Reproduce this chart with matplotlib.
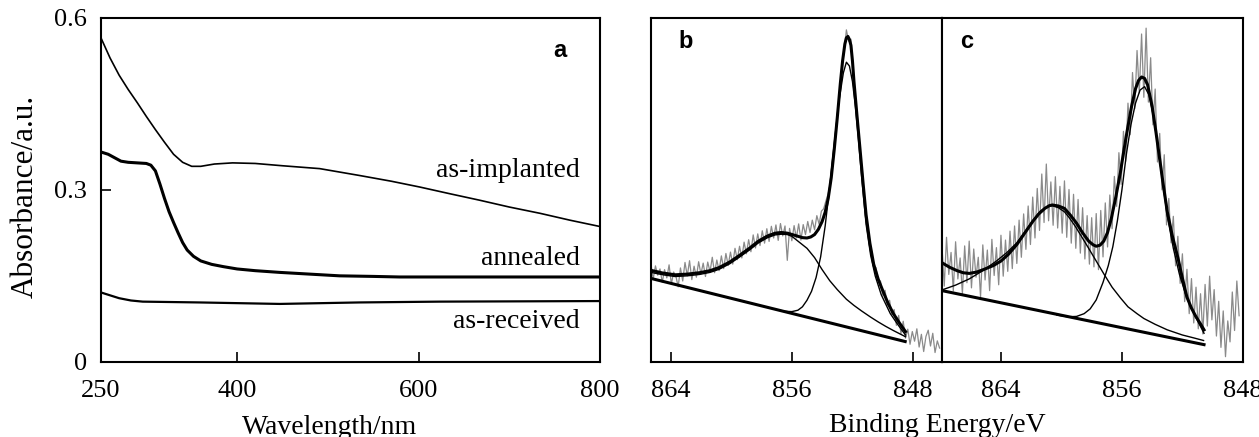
import numpy as np
import matplotlib
matplotlib.use("Agg")
import matplotlib.pyplot as plt

plt.rcParams['font.family'] = ['Liberation Serif', 'DejaVu Serif']

# ---- panel a: UV-vis absorbance ----
wl_impl = [250, 260, 270, 280, 290, 300, 310, 320, 330, 340, 350, 360, 375, 395, 420, 450,
           491, 535, 570, 601, 635, 667, 700, 734, 767, 800]
abs_impl = [0.565, 0.530, 0.500, 0.475, 0.452, 0.428, 0.405, 0.383, 0.362, 0.348, 0.341,
            0.341, 0.345, 0.347, 0.346, 0.342, 0.337, 0.325, 0.315, 0.305, 0.293, 0.282,
            0.270, 0.259, 0.247, 0.236]
wl_ann = [250, 258, 265, 272, 280, 290, 300, 305, 310, 315, 320, 325, 330, 335, 340, 345,
          352, 360, 372, 385, 400, 420, 447, 480, 513, 550, 579, 800]
abs_ann = [0.366, 0.362, 0.356, 0.350, 0.348, 0.347, 0.346, 0.343, 0.333, 0.310, 0.285,
           0.262, 0.243, 0.225, 0.208, 0.195, 0.184, 0.176, 0.170, 0.166, 0.162, 0.159,
           0.156, 0.153, 0.150, 0.149, 0.148, 0.148]
wl_rec = [250, 260, 270, 283, 296, 358, 447, 535, 623, 800]
abs_rec = [0.121, 0.116, 0.111, 0.107, 0.105, 0.1036, 0.101, 0.1036, 0.105, 0.106]

# ---- panel b: XPS fit curves ----
b_base_e = [865.34, 848.52]
b_base_i = [24.3, 5.9]
b_env_e = [865.3, 864.5, 863.7, 862.9, 862.1, 861.4, 860.8, 860.1, 859.5, 858.8, 858.2,
           857.6, 857.1, 856.7, 856.3, 855.9, 855.6, 855.3, 855.0, 854.75, 854.5, 854.25,
           854.0, 853.8, 853.6, 853.4, 853.2, 853.0, 852.8, 852.65, 852.5, 852.4, 852.3,
           852.2, 852.1, 852.0, 851.9, 851.7, 851.5, 851.3, 851.1, 850.85, 850.6, 850.3,
           850.0, 849.65, 849.3, 848.9, 848.5]
b_env_i = [26.6, 25.8, 25.3, 25.5, 25.9, 26.5, 27.4, 29.0, 30.8, 33.0, 35.1,
           36.6, 37.4, 37.6, 37.4, 36.9, 36.5, 36.1, 36.0, 36.3, 37.0, 38.5,
           40.8, 43.5, 47.5, 53.5, 61.8, 71.0, 80.9, 87.5, 92.4, 94.2, 94.6,
           93.7, 92.0, 87.5, 81.5, 71.5, 61.8, 52.0, 42.7, 34.5, 28.4, 24.0,
           20.7, 17.0, 14.0, 11.3, 8.8]
b_p1_e = [857.0, 856.5, 856.0, 855.6, 855.3, 855.0, 854.7, 854.4, 854.1, 853.8, 853.5,
          853.2, 852.9, 852.6, 852.4, 852.2, 852.0, 851.8, 851.6, 851.4, 851.1, 850.8,
          850.5, 850.1, 849.5, 849.0, 848.5]
b_p1_i = [15.2, 14.7, 14.6, 15.0, 16.0, 17.9, 20.5, 24.5, 30.5, 39.5, 51.0,
          63.5, 75.5, 84.0, 87.1, 86.0, 81.5, 74.0, 64.5, 54.0, 40.0, 31.0,
          25.0, 19.5, 14.0, 10.8, 7.8]
b_p2_e = [865.3, 864.5, 863.7, 862.9, 862.1, 861.4, 860.8, 860.1, 859.5, 858.8, 858.2,
          857.6, 857.1, 856.7, 856.3, 856.0, 855.6, 855.0, 854.5, 854.0, 853.5, 853.0,
          852.4, 851.9, 851.4, 850.8, 850.3, 849.8, 849.3, 848.9, 848.5]
b_p2_i = [26.0, 25.3, 24.8, 25.0, 25.4, 26.0, 26.9, 28.5, 30.3, 32.5, 34.6,
          36.1, 36.9, 37.1, 37.0, 36.5, 35.1, 33.0, 30.3, 26.8, 23.6, 21.0,
          18.2, 16.4, 14.8, 13.0, 11.6, 10.3, 9.1, 8.2, 7.3]
b_raw_i = [28.5, 24.0, 27.9, 25.2, 27.0, 23.1, 26.8, 24.4, 28.2, 22.6,
           26.1, 24.9, 21.8, 27.3, 23.5, 28.9, 25.0, 29.4, 23.9, 27.8,
           24.6, 29.1, 25.5, 28.7, 24.8, 29.0, 26.2, 30.4, 25.9, 29.6,
           26.5, 30.8, 27.1, 31.5, 28.0, 31.9, 28.4, 33.0, 29.7, 33.6,
           30.2, 34.8, 31.4, 35.5, 32.0, 36.9, 33.1, 37.2, 33.8, 38.1,
           34.5, 38.7, 35.0, 39.4, 36.0, 39.8, 35.3, 40.2, 36.6, 39.5,
           29.5, 38.8, 35.2, 39.6, 36.0, 40.1, 35.4, 39.9, 37.0, 40.8,
           37.6, 41.2, 38.4, 42.5, 40.0, 43.8, 44.5, 46.8, 48.9, 52.0,
           58.9, 63.5, 72.0, 77.9, 85.6, 90.1, 96.5, 93.2, 93.8, 84.5,
           75.6, 70.1, 61.2, 55.5, 47.0, 41.6, 35.3, 32.6, 27.5, 27.4,
           23.6, 23.5, 19.4, 20.8, 16.5, 17.9, 13.8, 15.2, 10.6, 13.5,
           8.2, 11.8, 6.9, 9.5, 5.1, 8.8, 6.0, 9.6, 4.3, 8.0,
           3.0, 7.4, 9.2, 4.6, 8.3, 2.7, 6.1, 4.0]
b_raw_e = np.linspace(865.3, 865.3 - 0.15 * (len(b_raw_i) - 1), len(b_raw_i))

# ---- panel c ----
c_base_e = [867.9, 850.57]
c_base_i = [20.7, 5.0]
c_env_e = [867.9, 867.4, 866.9, 866.5, 866.1, 865.6, 865.05, 864.5, 864.0, 863.5, 862.95,
           862.4, 861.9, 861.5, 861.1, 860.8, 860.6, 860.2, 859.8, 859.4, 859.0, 858.6,
           858.2, 857.9, 857.7, 857.45, 857.2, 856.95, 856.7, 856.4, 856.1, 855.85, 855.6,
           855.35, 855.1, 854.9, 854.7, 854.5, 854.3, 854.0, 853.75, 853.5, 853.25, 853.0,
           852.65, 852.3, 852.0, 851.7, 851.4, 851.1, 850.8, 850.57]
c_env_i = [28.8, 27.5, 26.5, 25.9, 25.7, 26.1, 27.0, 28.0, 29.3, 31.3, 34.1,
           37.6, 40.8, 43.0, 44.6, 45.4, 45.6, 45.3, 44.6, 42.6, 40.3, 37.5,
           35.1, 34.0, 33.6, 33.9, 35.1, 37.6, 41.7, 48.0, 55.1, 62.0, 68.5,
           74.5, 79.4, 81.8, 82.8, 82.4, 80.5, 74.2, 66.8, 58.9, 51.0, 43.6,
           36.3, 30.3, 24.3, 18.8, 15.6, 13.1, 11.0, 9.3]
c_p1_e = [860.3, 859.6, 859.0, 858.5, 858.1, 857.7, 857.25, 856.9, 856.6, 856.3, 856.0,
          855.7, 855.4, 855.1, 854.8, 854.5, 854.2, 853.9, 853.6, 853.3, 853.0, 852.6,
          852.2, 851.8, 851.4, 851.0, 850.57]
c_p1_i = [13.6, 13.1, 13.2, 14.0, 15.4, 18.0, 23.1, 28.0, 33.5, 41.0, 50.0,
          60.5, 69.0, 75.2, 79.0, 80.0, 77.5, 71.0, 62.0, 52.0, 42.5, 33.0,
          25.5, 19.8, 15.5, 12.0, 8.3]
c_p2_e = [867.9, 867.0, 866.1, 865.2, 864.3, 863.6, 862.95, 862.4, 861.9, 861.4, 860.9,
          860.6, 860.2, 859.8, 859.5, 859.1, 858.75, 858.2, 857.7, 857.2, 856.65, 856.1,
          855.6, 855.0, 854.55, 853.8, 853.0, 852.0, 851.2, 850.6]
c_p2_i = [20.9, 22.3, 24.1, 26.5, 29.3, 31.8, 34.6, 37.9, 41.0, 43.8, 45.2,
          45.4, 44.8, 43.6, 42.0, 39.5, 37.0, 33.0, 29.3, 25.6, 21.7, 18.6,
          16.0, 14.0, 12.6, 10.9, 9.3, 7.8, 6.9, 6.2]
c_raw_i = [33.5, 22.0, 36.2, 25.4, 31.8, 20.6, 34.9, 24.1, 30.2, 19.8,
           33.7, 23.0, 35.1, 21.5, 32.8, 24.6, 30.4, 18.9, 34.0, 23.8,
           32.5, 20.7, 35.6, 25.1, 33.2, 22.4, 36.8, 24.9, 35.4, 26.3,
           38.0, 27.1, 39.5, 28.6, 41.2, 30.4, 43.0, 32.7, 45.3, 34.1,
           47.9, 36.0, 50.4, 38.2, 54.6, 40.5, 57.5, 41.0, 52.3, 39.7,
           53.8, 38.9, 51.0, 37.4, 52.6, 36.2, 50.1, 34.5, 48.7, 33.0,
           47.2, 31.6, 44.8, 29.9, 42.5, 28.4, 41.9, 27.6, 43.1, 26.8,
           44.0, 30.5, 46.2, 33.4, 48.5, 38.7, 53.9, 45.2, 60.8, 51.6,
           67.0, 58.3, 75.2, 66.0, 84.1, 73.6, 90.5, 78.2, 95.3, 76.9,
           97.0, 75.5, 88.4, 68.9, 79.3, 58.1, 66.4, 50.0, 60.2, 39.8,
           47.5, 34.6, 42.3, 27.9, 36.5, 22.8, 31.4, 17.5, 26.9, 14.0,
           24.2, 11.3, 21.7, 9.6, 19.8, 8.1, 22.5, 10.4, 24.9, 12.2,
           21.0, 7.5, 17.6, 4.2, 14.8, 1.5, 11.9, 5.8, 20.3, 9.1,
           23.5, 13.4]
c_raw_e = np.linspace(867.9, 867.9 - 0.15 * (len(c_raw_i) - 1), len(c_raw_i))

fig = plt.figure(figsize=(12.59, 4.37), dpi=100)
ax_a = fig.add_axes([0.0802, 0.172, 0.3964, 0.7872])
ax_b = fig.add_axes([0.517, 0.172, 0.2311, 0.7872])
ax_c = fig.add_axes([0.7482, 0.172, 0.239, 0.7872])

fs = 19
thin, thick = 1.0, 2.2

ax_a.plot(wl_impl, abs_impl, color='k', lw=1.2)
ax_a.plot(wl_ann, abs_ann, color='k', lw=thick)
ax_a.plot(wl_rec, abs_rec, color='k', lw=1.6)
ax_a.set_xlim(250, 800)
ax_a.set_ylim(0, 0.6)
ax_a.set_xticks([250, 400, 600, 800])
ax_a.set_yticks([0, 0.3, 0.6])
ax_a.set_yticklabels(['0', '0.3', '0.6'])
ax_a.text(778, 0.333, 'as-implanted', ha='right', va='center', fontsize=20)
ax_a.text(778, 0.181, 'annealed', ha='right', va='center', fontsize=20)
ax_a.text(778, 0.070, 'as-received', ha='right', va='center', fontsize=20)
ax_a.text(0.92, 0.905, 'a', transform=ax_a.transAxes, fontsize=17, fontweight='bold',
          family='Liberation Sans', ha='center', va='center')

for ax, raw_e, raw_i, env_e, env_i, p1_e, p1_i, p2_e, p2_i, be, bi, xl, lab, lx in [
        (ax_b, b_raw_e, b_raw_i, b_env_e, b_env_i, b_p1_e, b_p1_i, b_p2_e, b_p2_i,
         b_base_e, b_base_i, (865.3, 846.1), 'b', 0.12),
        (ax_c, c_raw_e, c_raw_i, c_env_e, c_env_i, c_p1_e, c_p1_i, c_p2_e, c_p2_i,
         c_base_e, c_base_i, (867.9, 848.0), 'c', 0.083)]:
    ax.plot(raw_e, raw_i, color='#8a8a8a', lw=0.9)
    ax.plot(p1_e, p1_i, color='k', lw=thin)
    ax.plot(p2_e, p2_i, color='k', lw=thin)
    ax.plot(env_e, env_i, color='k', lw=thick)
    ax.plot(be, bi, color='k', lw=thick)
    ax.set_xlim(*xl)
    ax.set_ylim(0, 100)
    ax.set_xticks([864, 856, 848])
    ax.set_yticks([])
    ax.text(lx, 0.93, lab, transform=ax.transAxes, fontsize=17, fontweight='bold',
            family='Liberation Sans', ha='center', va='center')

for ax in (ax_a, ax_b, ax_c):
    ax.tick_params(direction='in', length=7, width=1.2, labelsize=fs)
    ax.tick_params(axis='x', pad=13)
    ax.tick_params(axis='y', pad=10)
    for s in ax.spines.values():
        s.set_linewidth(1.5)

fig.text(25 / 1259, 1 - 196 / 437, 'Absorbance/a.u.', rotation=90, ha='center',
         va='center', fontsize=22.5)
fig.text(330 / 1259, 3.5 / 437, 'Wavelength/nm', ha='center', va='baseline', fontsize=20)
fig.text(937 / 1259, 5.5 / 437, 'Binding Energy/eV', ha='center', va='baseline', fontsize=20)

fig.savefig('out.png', dpi=100)
